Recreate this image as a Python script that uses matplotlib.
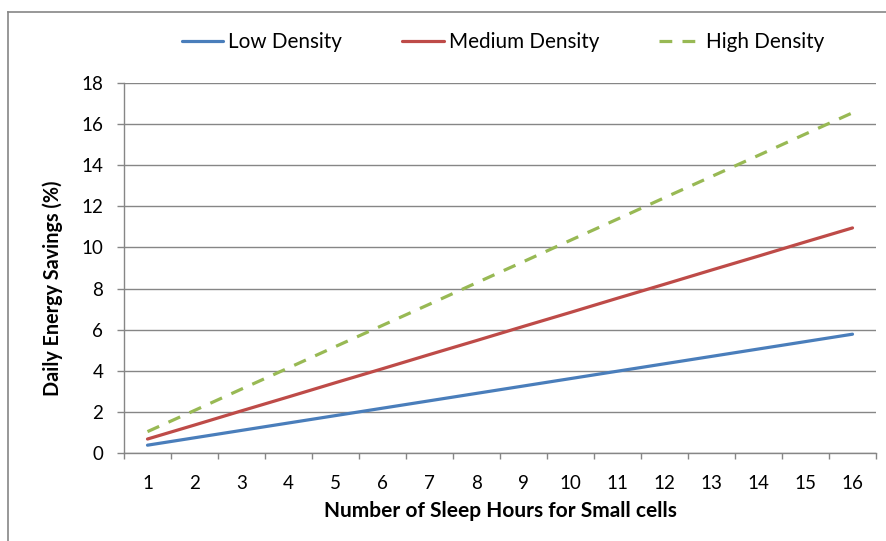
import matplotlib
matplotlib.use("Agg")
import matplotlib.pyplot as plt
from matplotlib.lines import Line2D
from matplotlib.ticker import FixedLocator, NullFormatter

hours = list(range(1, 17))
tick_labels = [str(h) for h in hours]
low = [0.38, 0.74, 1.10, 1.46, 1.82, 2.18, 2.54, 2.90, 3.26, 3.62, 3.98, 4.34, 4.70, 5.06, 5.42, 5.78]
medium = [0.68, 1.36, 2.05, 2.73, 3.42, 4.10, 4.79, 5.47, 6.16, 6.84, 7.53, 8.21, 8.90, 9.58, 10.27, 10.95]
high = [1.04, 2.07, 3.11, 4.14, 5.18, 6.21, 7.24, 8.28, 9.31, 10.35, 11.38, 12.42, 13.45, 14.48, 15.52, 16.55]
series_names = ["Low Density", "Medium Density", "High Density"]
y_ticks = [0, 2, 4, 6, 8, 10, 12, 14, 16, 18]

plt.rcParams['font.family'] = ['Lato', 'DejaVu Sans']

W, H = 886, 541
fig = plt.figure(figsize=(W / 100, H / 100), dpi=100)
ax = fig.add_axes([124 / W, 1 - 453 / H, (876 - 124) / W, (453 - 83) / H])

gray = '#868686'
ax.plot(hours, low, color='#4A7EBB', lw=2.3, solid_capstyle='round', label=series_names[0])
ax.plot(hours, medium, color='#BE4B48', lw=2.3, solid_capstyle='round', label=series_names[1])
ax.plot(hours, high, color='#98B954', lw=2.3, dashes=(4, 3.2), label=series_names[2])

ax.set_xlim(0.5, 16.5)
ax.set_ylim(0, 18)
ax.set_yticks(y_ticks)
ax.set_yticklabels([str(v) for v in y_ticks])
ax.yaxis.grid(True, color=gray, lw=1.0)
ax.set_axisbelow(True)

ax.set_xticks(hours)
ax.set_xticklabels(tick_labels)
ax.xaxis.set_minor_locator(FixedLocator([h - 0.5 for h in hours] + [16.5]))
ax.xaxis.set_minor_formatter(NullFormatter())
ax.tick_params(axis='x', which='major', length=0, pad=16, labelsize=13.5, colors='black')
ax.tick_params(axis='x', which='minor', length=4.5, width=1.0, color=gray)
ax.tick_params(axis='y', length=5, width=1.0, color=gray, pad=10, labelsize=13.5)

for s in ['top', 'right']:
    ax.spines[s].set_visible(False)
for s in ['left', 'bottom']:
    ax.spines[s].set_color(gray)
    ax.spines[s].set_linewidth(1.0)

ax.set_xlabel("Number of Sleep Hours for Small cells", fontsize=15, fontweight='bold', labelpad=6)
ax.set_ylabel("Daily Energy Savings (%)", fontsize=14.2, fontweight='bold')
ax.yaxis.set_label_coords((63 - 124) / 752, (453 - 288) / 370)

leg = fig.legend(loc='center', bbox_to_anchor=(503 / W, 1 - 42 / H), ncol=3, frameon=False,
                 fontsize=14.9, handlelength=2.0, handletextpad=0.25, columnspacing=2.9)

# outer chart border
fig.add_artist(Line2D([7.5 / W, 7.5 / W], [0, 1 - 11.7 / H], transform=fig.transFigure, color=gray, lw=1.2))
fig.add_artist(Line2D([7.5 / W, 1], [1 - 11.7 / H, 1 - 11.7 / H], transform=fig.transFigure, color=gray, lw=1.2))

fig.savefig("out.png", dpi=100)
